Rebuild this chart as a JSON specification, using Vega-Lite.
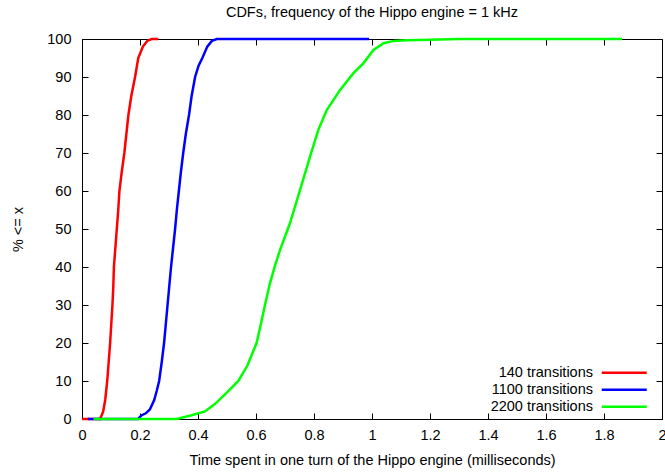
{
  "$schema": "https://vega.github.io/schema/vega-lite/v6.json",
  "width": 580,
  "height": 380,
  "autosize": {"type": "none"},
  "padding": {"left": 82, "top": 39, "right": 3, "bottom": 53},
  "background": "white",
  "title": {"text": "CDFs, frequency of the Hippo engine = 1 kHz", "fontSize": 14.5, "fontWeight": "normal", "font": "Liberation Sans", "color": "black", "offset": 11, "anchor": "middle"},
  "config": {
    "font": "Liberation Sans",
    "view": {"stroke": "black", "strokeWidth": 1},
    "axis": {"grid": false, "domain": false, "labelFontSize": 14.5, "titleFontSize": 14.5, "labelColor": "black", "titleColor": "black", "titleFontWeight": "normal", "tickColor": "black", "tickSize": -6, "tickWidth": 1, "labelFont": "Liberation Sans", "titleFont": "Liberation Sans", "labelFlush": false, "labelOverlap": false}
  },
  "data": {"values": [
    {"series": "140 transitions", "x": 0, "y": 0},
    {"series": "140 transitions", "x": 0.062, "y": 0},
    {"series": "140 transitions", "x": 0.068, "y": 1},
    {"series": "140 transitions", "x": 0.073, "y": 2},
    {"series": "140 transitions", "x": 0.080, "y": 5},
    {"series": "140 transitions", "x": 0.087, "y": 10},
    {"series": "140 transitions", "x": 0.092, "y": 15},
    {"series": "140 transitions", "x": 0.097, "y": 20},
    {"series": "140 transitions", "x": 0.101, "y": 25},
    {"series": "140 transitions", "x": 0.105, "y": 30},
    {"series": "140 transitions", "x": 0.108, "y": 35},
    {"series": "140 transitions", "x": 0.110, "y": 40},
    {"series": "140 transitions", "x": 0.115, "y": 45},
    {"series": "140 transitions", "x": 0.120, "y": 50},
    {"series": "140 transitions", "x": 0.125, "y": 55},
    {"series": "140 transitions", "x": 0.129, "y": 60},
    {"series": "140 transitions", "x": 0.137, "y": 65},
    {"series": "140 transitions", "x": 0.146, "y": 70},
    {"series": "140 transitions", "x": 0.153, "y": 75},
    {"series": "140 transitions", "x": 0.160, "y": 80},
    {"series": "140 transitions", "x": 0.170, "y": 85},
    {"series": "140 transitions", "x": 0.183, "y": 90},
    {"series": "140 transitions", "x": 0.194, "y": 95},
    {"series": "140 transitions", "x": 0.210, "y": 98},
    {"series": "140 transitions", "x": 0.225, "y": 99.5},
    {"series": "140 transitions", "x": 0.240, "y": 100},
    {"series": "140 transitions", "x": 0.263, "y": 100},
    {"series": "1100 transitions", "x": 0.02, "y": 0},
    {"series": "1100 transitions", "x": 0.193, "y": 0},
    {"series": "1100 transitions", "x": 0.206, "y": 1},
    {"series": "1100 transitions", "x": 0.220, "y": 1.5},
    {"series": "1100 transitions", "x": 0.234, "y": 2.5},
    {"series": "1100 transitions", "x": 0.249, "y": 5},
    {"series": "1100 transitions", "x": 0.258, "y": 7.5},
    {"series": "1100 transitions", "x": 0.266, "y": 10},
    {"series": "1100 transitions", "x": 0.275, "y": 15},
    {"series": "1100 transitions", "x": 0.283, "y": 20},
    {"series": "1100 transitions", "x": 0.289, "y": 25},
    {"series": "1100 transitions", "x": 0.295, "y": 30},
    {"series": "1100 transitions", "x": 0.301, "y": 35},
    {"series": "1100 transitions", "x": 0.307, "y": 40},
    {"series": "1100 transitions", "x": 0.314, "y": 45},
    {"series": "1100 transitions", "x": 0.321, "y": 50},
    {"series": "1100 transitions", "x": 0.327, "y": 55},
    {"series": "1100 transitions", "x": 0.334, "y": 60},
    {"series": "1100 transitions", "x": 0.341, "y": 65},
    {"series": "1100 transitions", "x": 0.349, "y": 70},
    {"series": "1100 transitions", "x": 0.358, "y": 75},
    {"series": "1100 transitions", "x": 0.369, "y": 80},
    {"series": "1100 transitions", "x": 0.378, "y": 85},
    {"series": "1100 transitions", "x": 0.390, "y": 90},
    {"series": "1100 transitions", "x": 0.402, "y": 93},
    {"series": "1100 transitions", "x": 0.415, "y": 95},
    {"series": "1100 transitions", "x": 0.432, "y": 98},
    {"series": "1100 transitions", "x": 0.448, "y": 99.5},
    {"series": "1100 transitions", "x": 0.465, "y": 100},
    {"series": "1100 transitions", "x": 0.99, "y": 100},
    {"series": "2200 transitions", "x": 0.04, "y": 0},
    {"series": "2200 transitions", "x": 0.326, "y": 0},
    {"series": "2200 transitions", "x": 0.378, "y": 1},
    {"series": "2200 transitions", "x": 0.424, "y": 2},
    {"series": "2200 transitions", "x": 0.459, "y": 4},
    {"series": "2200 transitions", "x": 0.500, "y": 7},
    {"series": "2200 transitions", "x": 0.539, "y": 10},
    {"series": "2200 transitions", "x": 0.570, "y": 14},
    {"series": "2200 transitions", "x": 0.602, "y": 20},
    {"series": "2200 transitions", "x": 0.614, "y": 24},
    {"series": "2200 transitions", "x": 0.631, "y": 30},
    {"series": "2200 transitions", "x": 0.648, "y": 35.7},
    {"series": "2200 transitions", "x": 0.666, "y": 40.5},
    {"series": "2200 transitions", "x": 0.683, "y": 44.5},
    {"series": "2200 transitions", "x": 0.717, "y": 51.5},
    {"series": "2200 transitions", "x": 0.752, "y": 60.3},
    {"series": "2200 transitions", "x": 0.786, "y": 69},
    {"series": "2200 transitions", "x": 0.815, "y": 76.1},
    {"series": "2200 transitions", "x": 0.844, "y": 81.3},
    {"series": "2200 transitions", "x": 0.890, "y": 86.6},
    {"series": "2200 transitions", "x": 0.936, "y": 91},
    {"series": "2200 transitions", "x": 0.970, "y": 93.6},
    {"series": "2200 transitions", "x": 1.005, "y": 97.1},
    {"series": "2200 transitions", "x": 1.040, "y": 98.9},
    {"series": "2200 transitions", "x": 1.075, "y": 99.5},
    {"series": "2200 transitions", "x": 1.12, "y": 99.7},
    {"series": "2200 transitions", "x": 1.2, "y": 99.8},
    {"series": "2200 transitions", "x": 1.3, "y": 100},
    {"series": "2200 transitions", "x": 1.862, "y": 100}
  ]},
  "layer": [
    {
      "mark": {"type": "line", "strokeWidth": 2.5, "interpolate": "linear"},
      "encoding": {
        "x": {"field": "x", "type": "quantitative", "scale": {"domain": [0, 2], "nice": false},
              "axis": {"orient": "bottom", "values": [0, 0.2, 0.4, 0.6, 0.8, 1, 1.2, 1.4, 1.6, 1.8, 2], "format": "~g", "labelPadding": 15, "title": "Time spent in one turn of the Hippo engine (milliseconds)", "titlePadding": 12}},
        "y": {"field": "y", "type": "quantitative", "scale": {"domain": [0, 100], "nice": false},
              "axis": {"orient": "left", "values": [0, 10, 20, 30, 40, 50, 60, 70, 80, 90, 100], "format": "d", "labelPadding": 17, "title": "% <= x", "titlePadding": 21}},
        "color": {"field": "series", "type": "nominal",
                  "scale": {"domain": ["140 transitions", "1100 transitions", "2200 transitions"], "range": ["#ff0000", "#0000ff", "#00ff00"]},
                  "legend": {"title": null, "orient": "none", "legendX": 535, "legendY": 326.5, "symbolType": "M-5,0H5", "symbolSize": 81, "symbolStrokeWidth": 2.5, "labelAlign": "right", "labelOffset": -38.5, "labelFontSize": 14.5, "labelColor": "black", "labelLimit": 300, "rowPadding": 2}},
        "order": {"field": "series", "type": "nominal"},
        "detail": {"field": "series"}
      }
    },
    {
      "mark": {"type": "point", "opacity": 0},
      "encoding": {
        "x": {"field": "x", "type": "quantitative", "scale": {"domain": [0, 2], "nice": false},
              "axis": {"orient": "top", "values": [0, 0.2, 0.4, 0.6, 0.8, 1, 1.2, 1.4, 1.6, 1.8, 2], "labels": false, "title": null}},
        "y": {"field": "y", "type": "quantitative", "scale": {"domain": [0, 100], "nice": false},
              "axis": {"orient": "right", "values": [0, 10, 20, 30, 40, 50, 60, 70, 80, 90, 100], "labels": false, "title": null}}
      }
    }
  ],
  "resolve": {"axis": {"x": "independent", "y": "independent"}}
}
